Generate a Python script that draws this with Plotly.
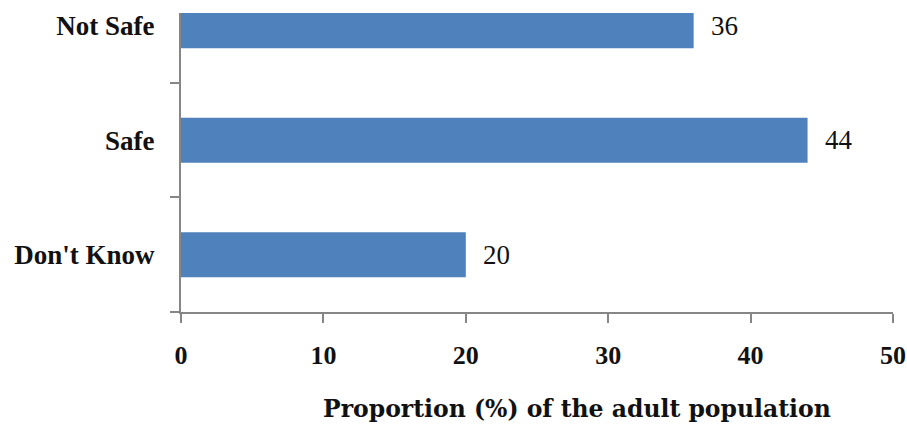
import plotly.graph_objects as go

# Survey responses, listed bottom-to-top as drawn on the category axis
categories = ["Don't Know", "Safe", "Not Safe"]
proportions = [20, 44, 36]
value_labels = ["20", "44", "36"]

x_ticks = [0, 10, 20, 30, 40, 50]
x_title = "Proportion (%) of the adult population"

bar_color = "#4F81BD"
axis_color = "#868686"
serif = "Liberation Serif, Times New Roman, serif"
wide_serif = "DejaVu Serif, serif"

fig = go.Figure(
    go.Bar(
        x=proportions,
        y=categories,
        orientation="h",
        width=0.393,
        marker=dict(color=bar_color, line=dict(width=0)),
        hoverinfo="skip",
    )
)

# Value labels just past the end of each bar
for cat, val, lab in zip(categories, proportions, value_labels):
    fig.add_annotation(
        x=val, y=cat, text=lab, showarrow=False,
        xanchor="left", yanchor="middle", xshift=15,
        font=dict(family=serif, size=27, color="#111111"),
    )

# Axis title placed below the tick labels
fig.add_annotation(
    x=0.556, y=-0.325, xref="paper", yref="paper",
    text="<b>" + x_title + "</b>", showarrow=False,
    xanchor="center", yanchor="middle",
    font=dict(family=wide_serif, size=23.5, color="#111111"),
)

fig.update_layout(
    width=907, height=425,
    margin=dict(l=181, r=14, t=13, b=113, autoexpand=False),
    paper_bgcolor="white", plot_bgcolor="white",
    showlegend=False,
)

fig.update_xaxes(
    range=[0, 50], tickvals=x_ticks, ticktext=[str(t) for t in x_ticks],
    automargin=False,
    showgrid=False, zeroline=False,
    showline=True, linecolor=axis_color, linewidth=2,
    ticks="outside", ticklen=9, tickwidth=2, tickcolor=axis_color,
    ticklabelstandoff=10,
    tickfont=dict(family=serif, size=26, color="#111111", weight="bold"),
)

fig.update_yaxes(
    type="category", categoryorder="array", categoryarray=categories,
    range=[-0.5, 2.111], automargin=False,
    showgrid=False, zeroline=False,
    showline=True, linecolor=axis_color, linewidth=2,
    ticks="outside", ticklen=9, tickwidth=2, tickcolor=axis_color,
    tickson="boundaries",
    ticklabelstandoff=19,
    tickfont=dict(family=serif, size=27, color="#111111", weight="bold"),
)

fig.write_html("out.html")
